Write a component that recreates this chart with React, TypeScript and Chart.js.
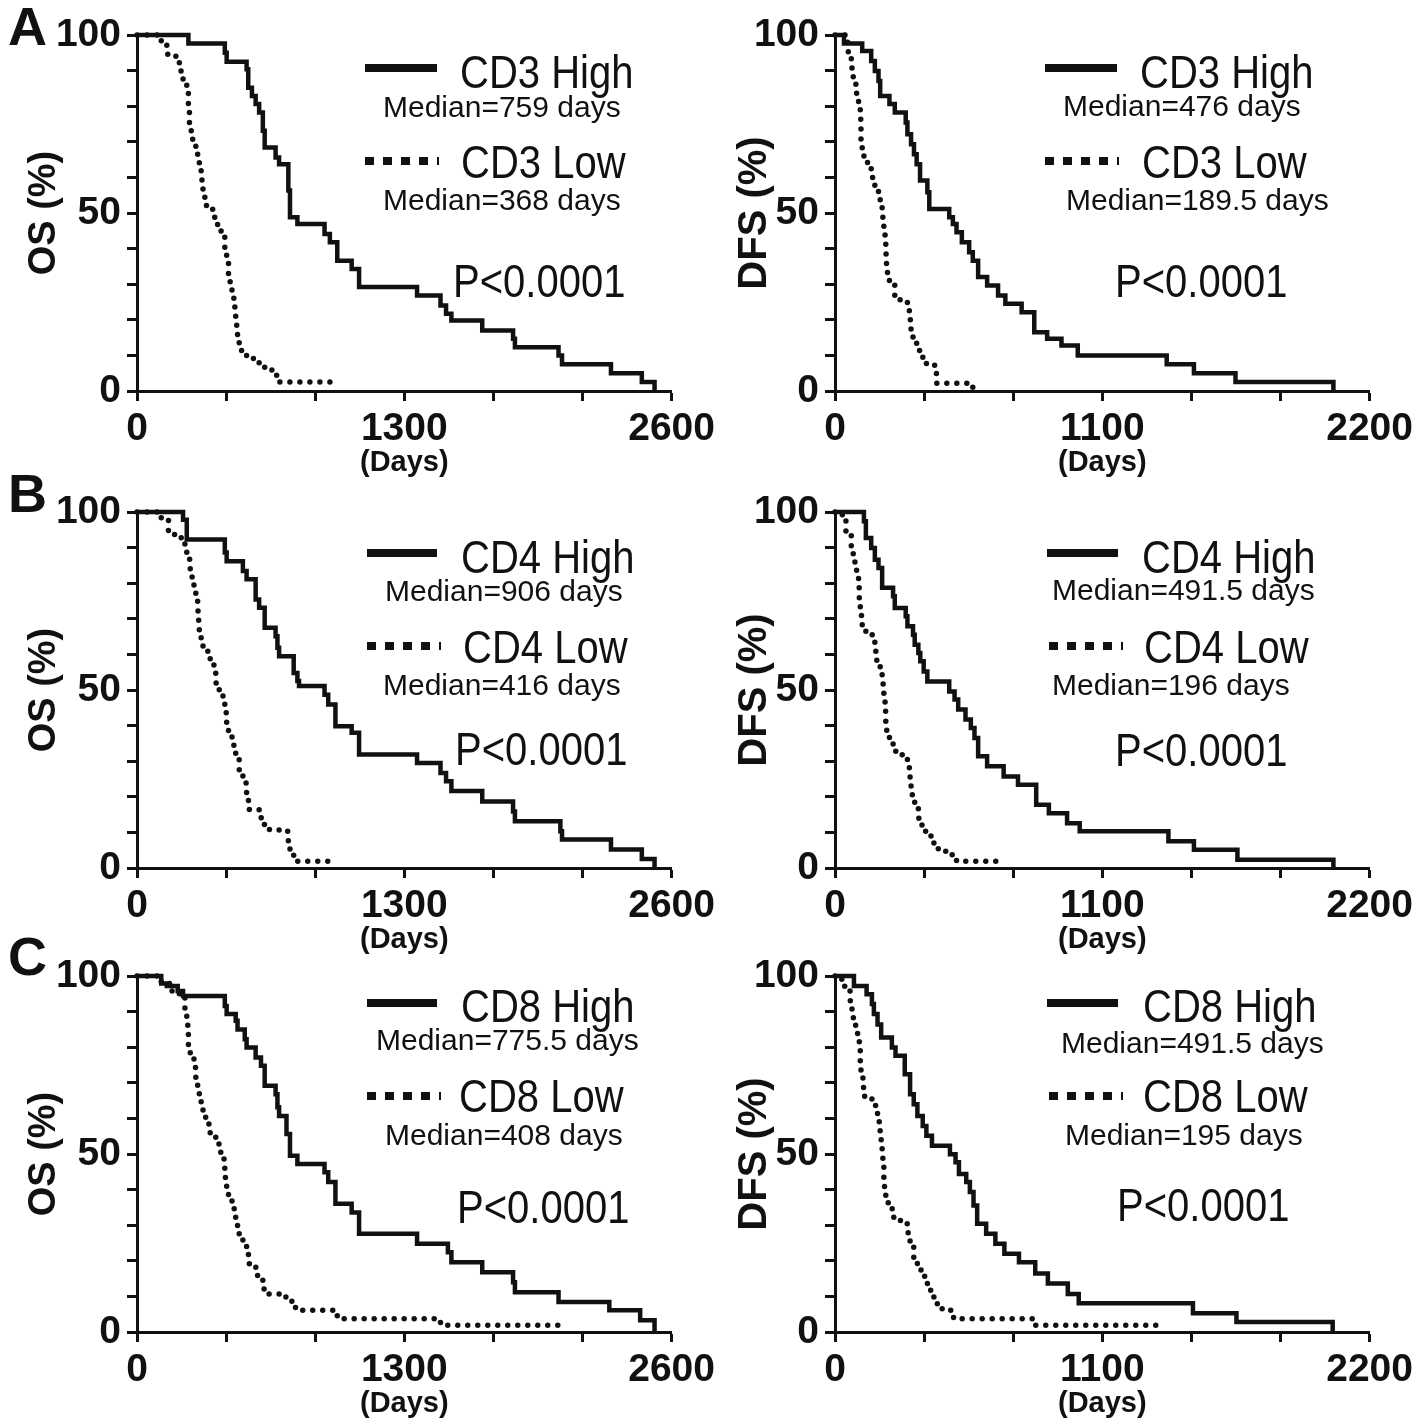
import React, { useEffect, useRef } from 'react';
import { Chart, registerables } from 'chart.js';
Chart.register(...registerables);

type Pt = [number, number];

// ---- Kaplan-Meier step data: [day, survival %] (level from that day on) ----
const osCd3High: Pt[] = [[0,100],[250,97.6],[427,95.0],[436,92.5],[533,90.4],[541,85.2],[559,82.9],[577,80.6],[594,78.2],[612,73.1],[621,68.4],[674,65.6],[691,63.7],[736,56.3],[744,48.8],[780,46.9],[912,44.1],[938,41.8],[974,36.6],[1044,34.3],[1080,29.2],[1362,26.8],[1476,24.0],[1503,21.7],[1529,19.8],[1679,17.0],[1829,14.7],[1838,12.3],[2050,10.0],[2067,7.5],[2305,5.0],[2455,2.5],[2517,0]];
const osCd3Low: Pt[] = [[0,100],[118,97.6],[145,94.6],[189,93.2],[206,89.9],[224,86.6],[242,83.8],[250,79.6],[255,73.1],[268,70.7],[286,67.9],[295,65.1],[303,62.8],[312,60.0],[316,57.7],[321,54.9],[330,52.1],[368,48.8],[392,46.0],[409,43.2],[427,39.9],[436,36.6],[445,32.9],[453,29.6],[462,27.3],[471,24.5],[476,21.7],[480,18.9],[485,16.5],[489,14.2],[497,11.4],[515,10.0],[550,9.1],[594,7.7],[621,6.3],[656,4.4],[691,2.5],[974,2.5]];
const dfsCd3High: Pt[] = [[0,100],[37,97.6],[112,95.5],[149,92.7],[164,89.9],[179,87.1],[186,82.9],[224,80.6],[246,78.2],[291,75.4],[298,72.1],[313,69.3],[325,66.5],[336,63.7],[350,59.1],[380,55.8],[388,51.1],[470,48.8],[485,46.9],[500,44.6],[522,41.8],[552,39.0],[567,36.6],[589,32.0],[626,29.6],[671,26.8],[701,24.5],[768,22.1],[820,16.5],[873,14.7],[932,12.8],[999,10.0],[1365,7.5],[1477,5.0],[1648,2.5],[2051,0]];
const dfsCd3Low: Pt[] = [[0,100],[52,95.3],[67,92.7],[70,89.0],[75,86.2],[89,82.9],[97,79.6],[104,76.8],[106,73.6],[107,70.7],[112,67.9],[119,65.6],[134,62.8],[149,60.0],[164,57.2],[179,54.9],[186,52.1],[194,49.7],[197,46.9],[201,44.1],[206,41.3],[209,38.5],[212,35.7],[216,32.9],[224,30.1],[246,26.8],[268,25.4],[298,24.5],[306,21.7],[310,18.9],[313,16.1],[321,13.7],[336,11.4],[350,9.5],[373,7.7],[410,4.9],[418,2.2],[567,0]];
const osCd4High: Pt[] = [[0,100],[224,97.8],[242,92.3],[427,88.6],[436,86.2],[515,83.4],[533,81.1],[577,75.4],[594,73.1],[621,67.5],[674,65.1],[683,61.9],[691,59.5],[762,54.8],[780,52.5],[788,51.1],[912,48.7],[930,45.9],[965,39.8],[1044,38.0],[1080,31.9],[1362,29.5],[1476,26.7],[1503,24.4],[1529,21.6],[1679,18.7],[1829,15.9],[1838,13.1],[2059,10.3],[2067,8.0],[2305,5.2],[2455,2.5],[2517,0]];
const osCd4Low: Pt[] = [[0,100],[118,98.1],[153,93.7],[215,91.4],[233,89.0],[242,86.7],[259,83.9],[268,81.1],[277,78.3],[286,75.4],[295,72.2],[300,69.4],[303,66.5],[312,63.7],[321,60.9],[356,57.6],[374,54.8],[383,52.0],[400,49.2],[418,46.4],[427,43.6],[436,40.8],[445,38.0],[462,36.1],[471,33.3],[480,30.5],[497,27.6],[515,23.9],[533,21.1],[542,16.4],[594,14.1],[612,12.2],[639,10.8],[691,10.3],[736,7.0],[744,4.2],[762,1.9],[974,1.9]];
const dfsCd4High: Pt[] = [[0,100],[119,97.4],[127,92.7],[149,89.9],[164,86.6],[179,84.3],[194,78.7],[239,76.3],[246,73.0],[291,70.7],[298,67.9],[321,65.5],[328,62.7],[343,60.4],[351,58.1],[365,55.2],[380,52.4],[470,49.6],[492,47.3],[507,44.5],[537,41.7],[559,39.3],[574,36.5],[589,31.4],[626,28.6],[694,25.7],[753,23.4],[828,17.8],[880,15.4],[955,12.6],[1007,10.3],[1372,7.5],[1477,5.1],[1656,2.3],[2051,0]];
const dfsCd4Low: Pt[] = [[0,100],[30,98.8],[45,94.0],[67,90.3],[75,87.0],[82,84.3],[89,81.5],[97,78.7],[100,75.8],[104,73.0],[109,70.2],[112,67.4],[127,65.5],[157,64.1],[164,60.9],[172,58.1],[186,55.2],[194,52.4],[198,49.6],[201,46.8],[206,44.0],[209,41.2],[213,38.4],[224,35.6],[239,32.8],[261,31.8],[298,30.4],[306,27.6],[309,25.3],[313,22.5],[318,19.7],[328,16.9],[343,14.0],[358,11.7],[373,9.4],[395,7.0],[425,4.7],[462,3.7],[500,1.9],[664,0]];
const osCd8High: Pt[] = [[0,100],[118,97.9],[145,97.2],[198,95.8],[224,94.4],[427,91.6],[436,89.3],[480,87.4],[489,85.0],[524,82.2],[533,79.9],[577,77.1],[603,74.8],[621,69.2],[674,66.8],[683,63.1],[691,60.7],[727,55.6],[744,49.5],[780,47.2],[912,44.9],[930,42.1],[965,36.0],[1044,33.6],[1080,27.6],[1362,24.8],[1512,22.4],[1529,19.6],[1679,16.8],[1829,14.0],[1838,11.2],[2050,8.4],[2297,6.1],[2447,3.3],[2517,0]];
const osCd8Low: Pt[] = [[0,100],[118,97.9],[160,95.8],[206,93.9],[233,90.2],[242,86.9],[247,83.6],[250,79.9],[259,77.1],[277,74.3],[286,71.5],[295,68.7],[303,65.9],[312,63.1],[321,60.3],[339,58.4],[356,55.6],[383,52.8],[400,50.5],[418,48.6],[427,45.8],[430,43.0],[436,40.2],[445,37.4],[462,34.6],[480,31.8],[489,29.0],[497,26.6],[515,24.3],[533,22.0],[542,19.2],[568,18.2],[586,15.9],[612,12.1],[639,10.7],[691,9.8],[753,7.9],[771,6.1],[974,3.7],[1476,1.9],[2067,1.9]];
const dfsCd8High: Pt[] = [[0,100],[78,97.2],[130,94.9],[152,92.1],[160,89.3],[175,86.4],[190,82.7],[234,79.9],[249,77.6],[287,72.4],[309,66.8],[324,64.0],[339,60.7],[361,57.9],[376,55.1],[399,52.3],[473,49.9],[496,47.7],[510,44.4],[540,42.1],[555,39.3],[570,35.5],[585,30.4],[622,27.6],[660,24.8],[697,22.0],[757,19.6],[824,16.4],[876,13.6],[958,10.7],[1003,8.1],[1473,5.3],[1652,2.8],[2048,0]];
const dfsCd8Low: Pt[] = [[0,100],[25,99.1],[40,95.8],[63,92.1],[70,88.3],[85,85.5],[93,81.8],[100,79.0],[104,76.2],[107,73.4],[115,68.7],[122,65.9],[152,64.5],[167,62.6],[175,59.3],[182,56.5],[190,53.3],[194,50.0],[197,47.2],[201,43.5],[204,39.7],[209,36.9],[219,34.6],[242,31.3],[294,30.4],[301,27.1],[309,23.8],[324,21.0],[339,18.2],[354,15.9],[369,13.6],[384,11.7],[399,9.8],[421,6.5],[473,6.1],[488,3.7],[794,3.7],[824,1.9],[1361,1.9]];

// ---- axis ticks ----
const osXTicks = [0, 433.333, 866.667, 1300, 1733.333, 2166.667, 2600];
const dfsXTicks = [0, 366.667, 733.333, 1100, 1466.667, 1833.333, 2200];
const osXLabels = [0, 1300, 2600];
const dfsXLabels = [0, 1100, 2200];
const yTicks = [0, 10, 20, 30, 40, 50, 60, 70, 80, 90, 100];
const yLabels = [0, 50, 100];

const FAM = "'Liberation Sans', Arial, Helvetica, sans-serif";
const INK = '#111';

type Layout = {
  canvasLeft: number; canvasTop: number; canvasW: number; yWidth: number; padRight: number; titlePad: number; titleSize: number;
};

type Panel = {
  kind: 'OS' | 'DFS'; high: Pt[]; low: Pt[]; highName: string; lowName: string; medHigh: string; medLow: string;
  lay: Layout;
  ann: { solid: [number, number, number]; high: [number, number]; med1: [number, number]; dotted: [number, number]; low: [number, number]; med2: [number, number]; p: [number, number] };
};

const leftLay = (top: number): Layout => ({ canvasLeft: 0, canvasTop: top, canvasW: 720, yWidth: 137, padRight: 47, titlePad: 22, titleSize: 38 });
const rightLay = (top: number): Layout => ({ canvasLeft: 720, canvasTop: top, canvasW: 698, yWidth: 115, padRight: 46, titlePad: 11, titleSize: 40 });

const panels: Panel[] = [
  { kind: 'OS', high: osCd3High, low: osCd3Low, highName: 'CD3 High', lowName: 'CD3 Low', medHigh: 'Median=759 days', medLow: 'Median=368 days', lay: leftLay(0),
    ann: { solid: [365, 437, 68], high: [460, 88], med1: [383, 117], dotted: [365, 161], low: [461, 178], med2: [383, 210], p: [453, 297] } },
  { kind: 'DFS', high: dfsCd3High, low: dfsCd3Low, highName: 'CD3 High', lowName: 'CD3 Low', medHigh: 'Median=476 days', medLow: 'Median=189.5 days', lay: rightLay(0),
    ann: { solid: [1045, 1117, 68], high: [1140, 88], med1: [1063, 116], dotted: [1045, 161], low: [1142, 178], med2: [1066, 210], p: [1115, 297] } },
  { kind: 'OS', high: osCd4High, low: osCd4Low, highName: 'CD4 High', lowName: 'CD4 Low', medHigh: 'Median=906 days', medLow: 'Median=416 days', lay: leftLay(477),
    ann: { solid: [367, 437, 553], high: [461, 573], med1: [385, 601], dotted: [367, 646], low: [463, 663], med2: [383, 695], p: [455, 765] } },
  { kind: 'DFS', high: dfsCd4High, low: dfsCd4Low, highName: 'CD4 High', lowName: 'CD4 Low', medHigh: 'Median=491.5 days', medLow: 'Median=196 days', lay: rightLay(477),
    ann: { solid: [1047, 1118, 553], high: [1142, 573], med1: [1052, 600], dotted: [1049, 646], low: [1144, 663], med2: [1052, 695], p: [1115, 766] } },
  { kind: 'OS', high: osCd8High, low: osCd8Low, highName: 'CD8 High', lowName: 'CD8 Low', medHigh: 'Median=775.5 days', medLow: 'Median=408 days', lay: leftLay(941),
    ann: { solid: [367, 437, 1003], high: [461, 1022], med1: [376, 1050], dotted: [367, 1096], low: [459, 1112], med2: [385, 1145], p: [457, 1223] } },
  { kind: 'DFS', high: dfsCd8High, low: dfsCd8Low, highName: 'CD8 High', lowName: 'CD8 Low', medHigh: 'Median=491.5 days', medLow: 'Median=195 days', lay: rightLay(941),
    ann: { solid: [1047, 1118, 1003], high: [1143, 1022], med1: [1061, 1053], dotted: [1049, 1096], low: [1143, 1112], med2: [1065, 1145], p: [1117, 1221] } },
];

const CANVAS_H = 480;
const CHART_TOP = 35;
const X_SCALE_H = 89;

function KMChart({ p }: { p: Panel }) {
  const ref = useRef<HTMLCanvasElement>(null);
  useEffect(() => {
    if (!ref.current) return;
    const isOS = p.kind === 'OS';
    const xTicks = isOS ? osXTicks : dfsXTicks;
    const xLabels = isOS ? osXLabels : dfsXLabels;
    const xMax = isOS ? 2600 : 2200;
    const tickFont = { family: FAM, size: 39, weight: 'bold' as const };
    const grid = { display: true, drawOnChartArea: false, drawTicks: true, tickLength: 10, tickWidth: 3, tickColor: INK, color: INK };
    const chart = new Chart(ref.current, {
      type: 'line',
      data: {
        datasets: [
          { data: p.high.map(([x, y]) => ({ x, y })), borderColor: INK, borderWidth: 4.5, stepped: true, pointRadius: 0, fill: false, clip: false as any, borderJoinStyle: 'miter' },
          { data: p.low.map(([x, y]) => ({ x, y })), borderColor: INK, borderWidth: 5.5, borderDash: [0, 10], borderCapStyle: 'round', borderJoinStyle: 'round', stepped: true, pointRadius: 0, fill: false, clip: false as any },
        ],
      },
      options: {
        responsive: false,
        animation: false,
        events: [],
        layout: { padding: { top: CHART_TOP, left: 0, right: p.lay.padRight, bottom: 0 } },
        plugins: { legend: { display: false }, tooltip: { enabled: false } },
        scales: {
          x: {
            type: 'linear', min: 0, max: xMax,
            afterBuildTicks: (s: any) => { s.ticks = xTicks.map((v) => ({ value: v })); },
            afterFit: (s: any) => { s.height = X_SCALE_H; },
            grid, border: { display: true, color: INK, width: 3 },
            ticks: { autoSkip: false, maxRotation: 0, minRotation: 0, padding: 5, color: INK, font: tickFont,
              callback: (v: any) => (xLabels.some((l) => Math.abs(l - Number(v)) < 0.5) ? String(Math.round(Number(v))) : '') },
            title: { display: true, text: '(Days)', color: INK, font: { family: FAM, size: 29, weight: 'bold' }, padding: { top: 0, bottom: 0 } },
          },
          y: {
            type: 'linear', min: 0, max: 100,
            afterBuildTicks: (s: any) => { s.ticks = yTicks.map((v) => ({ value: v })); },
            afterFit: (s: any) => { s.width = p.lay.yWidth; },
            grid, border: { display: true, color: INK, width: 3 },
            ticks: { autoSkip: false, padding: 6, color: INK, font: tickFont,
              callback: (v: any) => (yLabels.includes(Math.round(Number(v))) ? String(Math.round(Number(v))) : '') },
            title: { display: true, text: `${p.kind} (%)`, color: INK, font: { family: FAM, size: p.lay.titleSize, weight: 'bold' }, padding: { top: p.lay.titlePad, bottom: 0 } },
          },
        },
      } as any,
    });
    return () => chart.destroy();
  }, [p]);
  return (
    <canvas ref={ref} width={p.lay.canvasW} height={CANVAS_H}
      style={{ position: 'absolute', left: p.lay.canvasLeft, top: p.lay.canvasTop, width: p.lay.canvasW, height: CANVAS_H }} />
  );
}

function Txt({ x, base, size, sy, text, bold }: { x: number; base: number; size: number; sy?: number; text: string; bold?: boolean }) {
  const asc = 0.8465 * size;
  return (
    <div style={{ position: 'absolute', left: x, top: base - asc, fontFamily: FAM, fontSize: size, lineHeight: `${size}px`,
      whiteSpace: 'nowrap', color: INK, fontWeight: bold ? 'bold' : 'normal',
      transform: sy ? `scaleY(${sy})` : undefined, transformOrigin: `0 ${asc}px` }}>{text}</div>
  );
}

function Annotations({ p }: { p: Panel }) {
  const a = p.ann;
  const big = 40, small = 30, sy = 1.15;
  return (
    <>
      <div style={{ position: 'absolute', left: a.solid[0], top: a.solid[2] - 4, width: a.solid[1] - a.solid[0], height: 8, background: INK }} />
      <Txt x={a.high[0]} base={a.high[1]} size={big} sy={sy} text={p.highName} />
      <Txt x={a.med1[0]} base={a.med1[1]} size={small} text={p.medHigh} />
      {[0, 1, 2, 3].map((i) => (
        <div key={i} style={{ position: 'absolute', left: a.dotted[0] + i * 18, top: a.dotted[1] - 4, width: 9, height: 8, background: INK }} />
      ))}
      <div style={{ position: 'absolute', left: a.dotted[0] + 72, top: a.dotted[1] - 4, width: 2, height: 8, background: INK }} />
      <Txt x={a.low[0]} base={a.low[1]} size={big} sy={sy} text={p.lowName} />
      <Txt x={a.med2[0]} base={a.med2[1]} size={small} text={p.medLow} />
      <Txt x={a.p[0]} base={a.p[1]} size={big} sy={sy} text={'P<0.0001'} />
    </>
  );
}

const panelLetters: [string, number][] = [['A', 45], ['B', 512], ['C', 975]];

export default function App() {
  return (
    <div style={{ position: 'absolute', left: 0, top: 0, width: 1418, height: 1425, background: '#fff', overflow: 'hidden' }}>
      {panels.map((p, i) => (
        <React.Fragment key={i}>
          <KMChart p={p} />
          <Annotations p={p} />
        </React.Fragment>
      ))}
      {panelLetters.map(([l, b]) => (
        <Txt key={l} x={8} base={b} size={54} text={l} bold />
      ))}
    </div>
  );
}
